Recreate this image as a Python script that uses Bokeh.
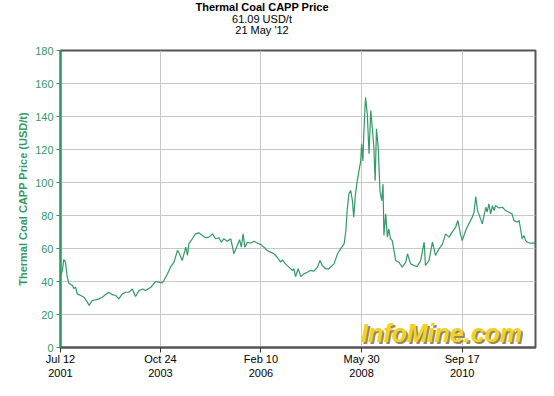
from bokeh.plotting import figure
from bokeh.models import Label, FixedTicker, Range1d, Div
from bokeh.layouts import column
from bokeh.embed import file_html
from bokeh.resources import INLINE

# decimal-year positions and prices (USD/t)
years = [2001.53, 2001.57, 2001.60, 2001.64, 2001.68, 2001.72, 2001.80, 2001.83, 2001.87, 2001.91,
         2001.99, 2002.06, 2002.14, 2002.18, 2002.25, 2002.33, 2002.41, 2002.48, 2002.63, 2002.71,
         2002.79, 2002.86, 2002.94, 2003.02, 2003.09, 2003.17, 2003.24, 2003.32, 2003.40, 2003.47,
         2003.59, 2003.70, 2003.78, 2003.85, 2003.89, 2003.97, 2004.04, 2004.12, 2004.20, 2004.23,
         2004.31, 2004.35, 2004.39, 2004.43, 2004.46, 2004.54, 2004.61, 2004.69, 2004.77, 2004.84,
         2004.92, 2005.00, 2005.07, 2005.15, 2005.20, 2005.26, 2005.34, 2005.42, 2005.49, 2005.57,
         2005.62, 2005.66, 2005.70, 2005.74, 2005.80, 2005.87, 2005.95, 2006.03, 2006.10, 2006.18,
         2006.25, 2006.33, 2006.41, 2006.48, 2006.56, 2006.60, 2006.67, 2006.75, 2006.83, 2006.86,
         2006.90, 2006.96, 2007.02, 2007.09, 2007.17, 2007.24, 2007.32, 2007.40, 2007.46, 2007.51,
         2007.59, 2007.66, 2007.70, 2007.78, 2007.86, 2007.93, 2008.01, 2008.05, 2008.08, 2008.12,
         2008.16, 2008.20, 2008.23, 2008.27, 2008.31, 2008.35, 2008.39, 2008.41, 2008.44, 2008.46,
         2008.50, 2008.54, 2008.58, 2008.62, 2008.66, 2008.69, 2008.72, 2008.75, 2008.79, 2008.83,
         2008.87, 2008.90, 2008.92, 2008.96, 2009.00, 2009.03, 2009.07, 2009.11, 2009.19, 2009.26,
         2009.34, 2009.42, 2009.46, 2009.53, 2009.61, 2009.68, 2009.76, 2009.84, 2009.87, 2009.95,
         2010.03, 2010.10, 2010.18, 2010.26, 2010.33, 2010.41, 2010.48, 2010.56, 2010.61, 2010.67,
         2010.71, 2010.79, 2010.86, 2010.94, 2010.98, 2011.02, 2011.06, 2011.09, 2011.17, 2011.25,
         2011.28, 2011.32, 2011.36, 2011.40, 2011.44, 2011.47, 2011.55, 2011.63, 2011.70, 2011.78,
         2011.85, 2011.89, 2011.97, 2012.01, 2012.05, 2012.08, 2012.12, 2012.16, 2012.20, 2012.27,
         2012.35, 2012.39]
prices = [43.6, 46.7, 53.3, 51.7, 42.6, 38.8, 37.6, 35.8, 36.6, 32.5,
          31.5, 30.5, 27.5, 25.5, 28.5, 28.9, 29.5, 30.5, 33.5, 32.0,
          31.5, 29.5, 32.5, 33.5, 33.5, 35.5, 30.9, 34.5, 35.5, 34.5,
          36.5, 40.0, 39.6, 39.2, 40.6, 44.6, 48.7, 51.7, 58.8, 57.8,
          52.7, 56.8, 60.8, 55.8, 62.8, 65.9, 68.9, 69.5, 67.9, 66.5,
          66.9, 68.9, 65.9, 66.5, 63.8, 65.9, 64.4, 65.9, 56.8, 61.8,
          65.3, 60.8, 68.9, 60.8, 63.8, 63.2, 64.4, 63.2, 62.5, 60.8,
          58.8, 57.8, 56.8, 54.7, 51.7, 53.1, 50.7, 48.7, 46.7, 47.7,
          43.0, 47.7, 43.0, 44.6, 45.6, 46.7, 46.3, 48.7, 52.7, 49.7,
          47.7, 47.7, 48.7, 50.7, 56.8, 59.8, 62.8, 70.9, 83.0, 93.2,
          95.2, 89.0, 79.0, 93.0, 101.0, 107.0, 113.0, 123.5, 113.0, 129.5,
          151.7, 141.6, 117.4, 143.6, 131.5, 121.4, 101.0, 132.5, 121.0, 95.0,
          89.0, 99.0, 67.9, 81.0, 66.9, 71.9, 65.9, 64.8, 52.7, 51.7,
          48.7, 51.7, 56.8, 50.7, 49.7, 49.0, 52.7, 63.8, 49.7, 52.7,
          63.8, 55.8, 59.8, 62.8, 68.9, 66.9, 69.9, 72.9, 77.0, 68.9,
          64.8, 70.9, 74.9, 79.0, 82.0, 91.5, 83.0, 81.0, 74.9, 85.0,
          82.0, 87.0, 81.0, 86.0, 83.0, 86.0, 84.6, 85.0, 83.0, 82.0,
          81.0, 77.0, 76.0, 77.0, 70.9, 65.9, 67.9, 64.8, 63.8, 63.2,
          63.2, 63.8]

tick_years = [2001.526, 2003.811, 2006.110, 2008.410, 2010.710]
tick_labels = ["Jul 12\n2001", "Oct 24\n2003", "Feb 10\n2006", "May 30\n2008", "Sep 17\n2010"]
y_ticks = list(range(0, 181, 20))
title_main = "Thermal Coal CAPP Price"
title_value = "61.09 USD/t"
title_date = "21 May '12"

GREEN = "#339966"
FONT = "Liberation Sans"

header = Div(
    text=(f"<div style=\"width:524px;text-align:center;font-family:'{FONT}';font-size:11px;"
          f"line-height:11.5px;color:black;padding-top:2px\">"
          f"<b>{title_main}</b><br>{title_value}<br>{title_date}</div>"),
    width=554, height=44, margin=(0, 0, 0, 0))

p = figure(width=554, height=352, output_backend="svg", toolbar_location=None,
           x_range=Range1d(2001.526, 2012.386), y_range=Range1d(0, 180),
           min_border_left=60, min_border_right=19, min_border_bottom=49, min_border_top=6,
           margin=(0, 0, 0, 0))
p.title.visible = False
p.background_fill_color = "white"
p.border_fill_color = "white"
p.outline_line_color = "#555555"
p.outline_line_width = 2

p.line(years, prices, line_color=GREEN, line_width=1.2)

# axes
xa = p.xaxis[0]
xa.ticker = FixedTicker(ticks=tick_years)
xa.major_label_overrides = {t: l for t, l in zip(tick_years, tick_labels)}
xa.axis_line_color = "#555555"
xa.axis_line_width = 2
xa.major_tick_line_color = "#333333"
xa.major_tick_in = 0
xa.major_tick_out = 5
xa.minor_tick_line_color = None
xa.major_label_text_font = FONT
xa.major_label_text_font_size = "11px"
xa.major_label_text_color = "black"
xa.major_label_standoff = 0

ya = p.yaxis[0]
ya.ticker = FixedTicker(ticks=y_ticks)
ya.axis_line_color = GREEN
ya.axis_line_width = 2
ya.major_tick_line_color = GREEN
ya.major_tick_in = 0
ya.major_tick_out = 4
ya.minor_tick_line_color = None
ya.major_label_text_font = FONT
ya.major_label_text_font_size = "11px"
ya.major_label_text_color = GREEN
ya.major_label_standoff = 3
ya.axis_label = "Thermal Coal CAPP Price (USD/t)"
ya.axis_label_text_font = FONT
ya.axis_label_text_font_size = "11px"
ya.axis_label_text_font_style = "bold"
ya.axis_label_text_color = GREEN
ya.axis_label_standoff = 3

p.xgrid.ticker = FixedTicker(ticks=tick_years)
p.xgrid.grid_line_color = "#c8c8c8"
p.ygrid.grid_line_color = "#c8c8c8"

# watermark
for dx, dy, col in [(2, -2, "#9a8a50"), (0, 0, "#f2d22a")]:
    p.add_layout(Label(x=381 + dx, y=15 + dy, x_units="screen", y_units="screen", text="InfoMine.com",
                       text_align="center", text_baseline="middle", text_font=FONT,
                       text_font_size="25px", text_font_style="bold italic", text_color=col))

layout = column(header, p, spacing=0, margin=(0, 0, 0, 0))
open("out.html", "w").write(file_html(layout, INLINE))
